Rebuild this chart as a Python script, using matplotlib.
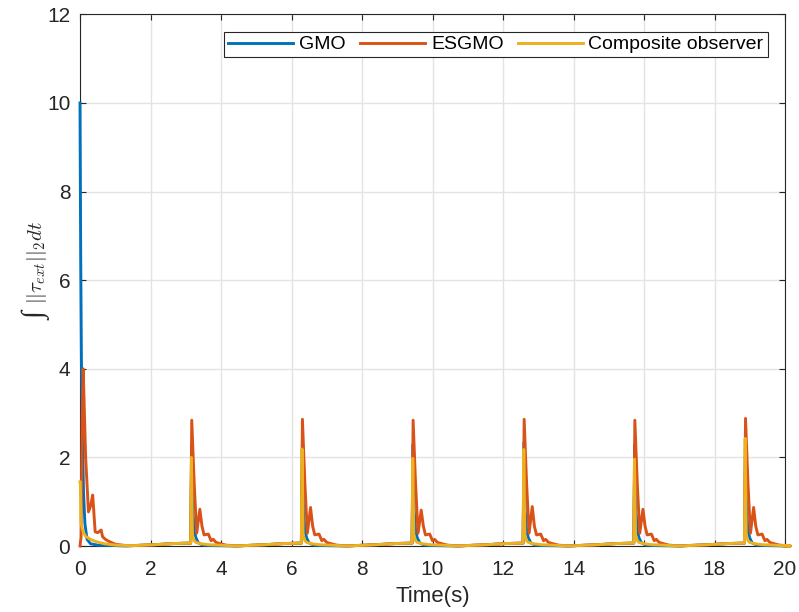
import numpy as np
import matplotlib
matplotlib.use("Agg")
import matplotlib.pyplot as plt

plt.rcParams['font.family'] = ['Liberation Sans', 'DejaVu Sans']
plt.rcParams['mathtext.fontset'] = 'cm'

# ---------------- data ----------------
# initial transient (t from 0)
gmo_init_t = [0.0, 0.02, 0.04, 0.07, 0.10, 0.14, 0.20, 0.30, 0.50, 1.00, 1.30]
gmo_init_v = [10.0, 6.5, 4.2, 2.4, 1.2, 0.5, 0.15, 0.05, 0.02, 0.01, 0.0]

esg_init_t = [0.0, 0.03, 0.06, 0.09, 0.16, 0.24, 0.30, 0.36, 0.43, 0.50, 0.60, 0.64, 0.72, 0.83, 1.00, 1.30]
esg_init_v = [0.0, 0.2, 2.8, 4.0, 2.0, 0.77, 0.9, 1.15, 0.32, 0.30, 0.36, 0.21, 0.15, 0.10, 0.04, 0.01]

comp_init_t = [0.0, 0.01, 0.025, 0.06, 0.10, 0.17, 0.30, 0.45, 0.70, 1.00, 1.30]
comp_init_v = [1.45, 1.45, 0.55, 0.40, 0.30, 0.21, 0.15, 0.10, 0.05, 0.02, 0.01]

# periodic impacts
spike_times = [3.14, 6.28, 9.42, 12.57, 15.71, 18.85]
esgmo_peaks = [2.84, 2.86, 2.84, 2.86, 2.84, 2.88]
esgmo_second = [0.83, 0.87, 0.81, 0.89, 0.83, 0.87]
comp_peaks = [2.00, 2.19, 1.98, 2.18, 1.96, 2.43]
gmo_peaks = [2.30, 2.35, 2.30, 2.35, 2.30, 2.40]

# response shape after each impact (time offsets from impact, values)
esg_dt = [0.03, 0.10, 0.17, 0.26, 0.32, 0.38, 0.50, 0.58, 0.64, 0.72, 0.85, 1.00, 1.30]
esg_tail = [None, 1.40, 0.29, None, 0.45, 0.25, 0.27, 0.12, 0.15, 0.08, 0.05, 0.02, 0.0]
comp_dt = [0.02, 0.05, 0.10, 0.15, 0.30, 0.50, 0.80, 1.30]
comp_tail = [None, 0.25, 0.12, 0.08, 0.05, 0.03, 0.02, 0.0]
gmo_dt = [0.03, 0.06, 0.10, 0.15, 0.22, 0.35, 0.60, 1.30]
gmo_tail = [None, 0.80, 0.35, 0.18, 0.07, 0.02, 0.01, 0.0]

# slowly rising baseline between impacts (offsets before the next impact)
base_dt = [-1.60, -1.00, -0.50, -0.01]
base_v = [0.01, 0.03, 0.055, 0.065]
end_time = 20.0


def build(init_t, init_v, dts, tail, peaks, second=None):
    t = list(init_t)
    v = list(init_v)
    for i, ts in enumerate(spike_times):
        for d, b in zip(base_dt, base_v):
            t.append(ts + d)
            v.append(b)
        t.append(ts)
        v.append(base_v[-1])
        for j, (d, val) in enumerate(zip(dts, tail)):
            t.append(ts + d)
            if val is None:
                v.append(peaks[i] if j == 0 else second[i])
            else:
                v.append(val)
    t.append(end_time)
    v.append(0.0)
    return np.array(t), np.array(v)


gmo_t, gmo_v = build(gmo_init_t, gmo_init_v, gmo_dt, gmo_tail, gmo_peaks)
esg_t, esg_v = build(esg_init_t, esg_init_v, esg_dt, esg_tail, esgmo_peaks, esgmo_second)
comp_t, comp_v = build(comp_init_t, comp_init_v, comp_dt, comp_tail, comp_peaks)

xticks = [0, 2, 4, 6, 8, 10, 12, 14, 16, 18, 20]
yticks = [0, 2, 4, 6, 8, 10, 12]

# ---------------- plot ----------------
fig = plt.figure(figsize=(7.99, 6.12), dpi=100)
ax = fig.add_axes([80 / 799, 1 - 546 / 612, 705 / 799, (546 - 14.4) / 612])

lw = 2.1
ax.plot(gmo_t, gmo_v, color='#0072BD', lw=lw, label='GMO', clip_on=False, zorder=3)
ax.plot(esg_t, esg_v, color='#D95319', lw=lw, label='ESGMO', clip_on=False, zorder=3)
ax.plot(comp_t, comp_v, color='#EDB120', lw=lw, label='Composite observer', clip_on=False, zorder=3)

ax.set_xlim(0, 20)
ax.set_ylim(0, 12)
ax.set_xticks(xticks)
ax.set_yticks(yticks)
ax.grid(True, color='#e3e3e3', lw=1.0)
ax.set_axisbelow(True)
ax.tick_params(direction='in', length=4, width=0.8, labelsize=15,
               top=True, right=True, colors='#262626', labelcolor='#262626')
ax.tick_params(axis='x', pad=10)
ax.tick_params(axis='y', pad=7)
for s in ax.spines.values():
    s.set_color('#262626')
    s.set_linewidth(0.8)

ax.set_xlabel('Time(s)', fontsize=16, color='#262626', labelpad=5)

# y label: integral sign + norm expression
fig.text(37 / 799, 1 - 262 / 612, r'$||\tau_{ext}||_2 dt$', rotation=90, fontsize=15,
         color='#262626', ha='center', va='center')
fig.text(37 / 799, 1 - 316 / 612, '∫', rotation=90, fontsize=21, color='#262626',
         family=['Liberation Serif', 'DejaVu Serif'], ha='center', va='center')

leg = ax.legend(loc='upper right', ncol=3, fontsize=14, frameon=True, fancybox=False,
                framealpha=1, edgecolor='#262626', handlelength=3.35, handletextpad=0.3,
                columnspacing=0.72, borderpad=0.2, borderaxespad=0.9)
leg.get_frame().set_linewidth(0.8)

fig.savefig('out.png', dpi=100)
